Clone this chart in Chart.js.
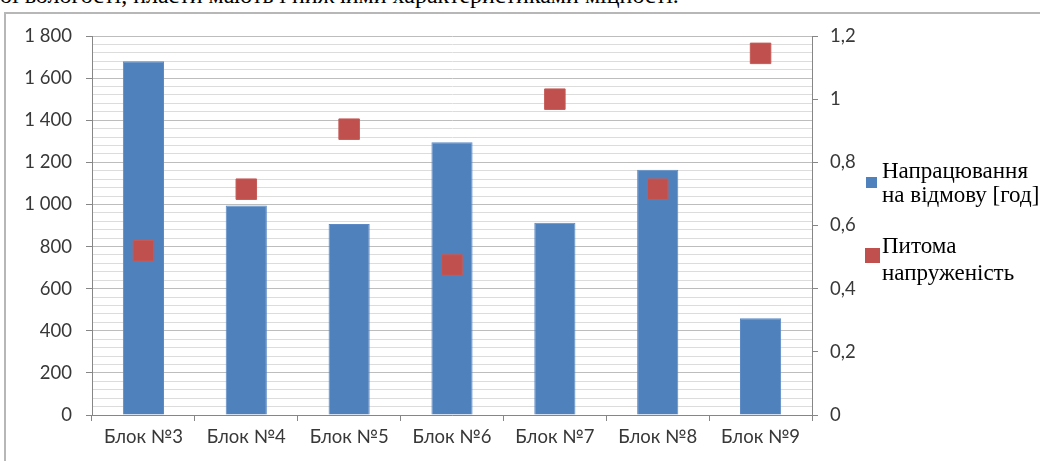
<!DOCTYPE html>
<html>
<head>
<meta charset="utf-8">
<script src="https://cdn.jsdelivr.net/npm/chart.js@4"></script>
<style>
  body { margin: 0; background: #fff; }
  #page { position: relative; width: 1040px; height: 461px; overflow: hidden; }
  #text-line { position: absolute; left: 0; top: -17px; white-space: nowrap;
    font-family: 'Liberation Serif'; font-size: 24px; line-height: 24px; color: #000; }
  #frame { position: absolute; left: 4px; top: 12px; width: 1100px; height: 500px;
    border: 2px solid #b7b7b7; }
  #chart-box { position: absolute; left: 0; top: 0; width: 1040px; height: 461px; }
</style>
</head>
<body>
<div id="page">
  <div id="text-line">ої вологості, пласти мають і нижчими характеристиками міцності.</div>
  <div id="frame"></div>
  <div id="chart-box"><canvas id="blocks-chart" width="1040" height="461"></canvas></div>
</div>
<script>
// Blocks and their measurements
const blocks = ['Блок №3', 'Блок №4', 'Блок №5', 'Блок №6', 'Блок №7', 'Блок №8', 'Блок №9'];
const hoursToFailure = [1680, 995, 907, 1295, 913, 1165, 460];
const specificStress = [0.52, 0.715, 0.905, 0.475, 1.0, 0.715, 1.145];

const hoursLabel = ['Напрацювання', 'на відмову [год]'];
const stressLabel = ['Питома', 'напруженість'];

const leftTicks = { min: 0, max: 1800, minorStep: 40, majorStep: 200 };
const rightTicks = { min: 0, max: 1.2, step: 0.2 };

const BLUE = '#4f81bd';
const RED = '#c0504d';
const AXIS = '#868686';
const tickFont = { family: 'Lato, "Open Sans", sans-serif', size: 18.5 };

function spaced(v) {
    return String(v).replace(/(\d)(\d{3})$/, '$1 $2');
}

// Legend on the right: a coloured square and two serif text lines per dataset
const sideLegend = {
    id: 'sideLegend',
    afterDraw: function(chart, args, opts) {
        const c = chart.ctx;
        c.save();
        c.font = opts.font;
        c.textBaseline = 'alphabetic';
        c.textAlign = 'left';
        opts.items.forEach(function(item) {
            const ds = chart.data.datasets[item.dataset];
            c.fillStyle = ds.backgroundColor || ds.pointBackgroundColor;
            c.fillRect(item.box.x, item.box.y, item.box.size, item.box.size);
            c.fillStyle = '#000';
            item.lines.forEach(function(line, j) {
                c.fillText(line, opts.textX, item.baseline + j * item.lineHeight);
            });
        });
        c.restore();
    }
};

const ctx = document.querySelector('#blocks-chart').getContext('2d');

const blocksChart = new Chart(ctx, {
    data: {
        labels: blocks,
        datasets: [
            {
                type: 'line',
                label: stressLabel.join(' '),
                data: specificStress,
                yAxisID: 'y1',
                showLine: false,
                pointStyle: 'rect',
                pointRadius: 14.5,
                pointBackgroundColor: RED,
                pointBorderColor: '#c65a57',
                pointBorderWidth: 1,
                order: 0
            },
            {
                type: 'bar',
                label: hoursLabel.join(' '),
                data: hoursToFailure,
                yAxisID: 'y',
                backgroundColor: BLUE,
                borderColor: '#5b8ac4',
                borderWidth: 1,
                barPercentage: 0.4,
                categoryPercentage: 1,
                order: 1
            }
        ]
    },
    plugins: [sideLegend],
    options: {
        responsive: false,
        animation: false,
        layout: { padding: { left: 0, right: 168, top: 36, bottom: 0 } },
        plugins: {
            legend: { display: false },
            tooltip: { enabled: false },
            sideLegend: {
                font: '23px "Liberation Serif", serif',
                textX: 882,
                items: [
                    { dataset: 1, lines: hoursLabel, box: { x: 866, y: 177, size: 11 }, baseline: 178, lineHeight: 24 },
                    { dataset: 0, lines: stressLabel, box: { x: 865, y: 248, size: 15 }, baseline: 253, lineHeight: 27 }
                ]
            }
        },
        scales: {
            x: {
                offset: true,
                grid: {
                    offset: true,
                    drawOnChartArea: false,
                    tickLength: 6,
                    color: AXIS
                },
                border: { color: AXIS },
                ticks: { font: tickFont, color: '#383838', padding: 5, maxRotation: 0 },
                afterFit: function(scale) { scale.height = 46; }
            },
            y: {
                position: 'left',
                min: leftTicks.min,
                max: leftTicks.max,
                grid: {
                    color: function(c) {
                        return c.tick.value % leftTicks.majorStep === 0 ? '#bdbdbd' : '#dcdcdc';
                    },
                    tickColor: function(c) {
                        return c.tick.value % leftTicks.majorStep === 0 ? AXIS : 'rgba(0,0,0,0)';
                    },
                    tickLength: 6
                },
                border: { color: AXIS },
                ticks: {
                    stepSize: leftTicks.minorStep,
                    maxTicksLimit: 100,
                    autoSkip: false,
                    font: tickFont,
                    color: '#383838',
                    padding: 14,
                    callback: function(v) {
                        return v % leftTicks.majorStep === 0 ? spaced(v) : '';
                    }
                },
                afterFit: function(scale) { scale.width = 92; }
            },
            y1: {
                position: 'right',
                min: rightTicks.min,
                max: rightTicks.max,
                grid: { drawOnChartArea: false, tickLength: 6, color: AXIS },
                border: { color: AXIS },
                ticks: {
                    stepSize: rightTicks.step,
                    font: tickFont,
                    color: '#383838',
                    padding: 12,
                    callback: function(v) {
                        return String(Math.round(v * 10) / 10).replace('.', ',');
                    }
                },
                afterFit: function(scale) { scale.width = 60; }
            }
        }
    }
});
</script>
</body>
</html>
